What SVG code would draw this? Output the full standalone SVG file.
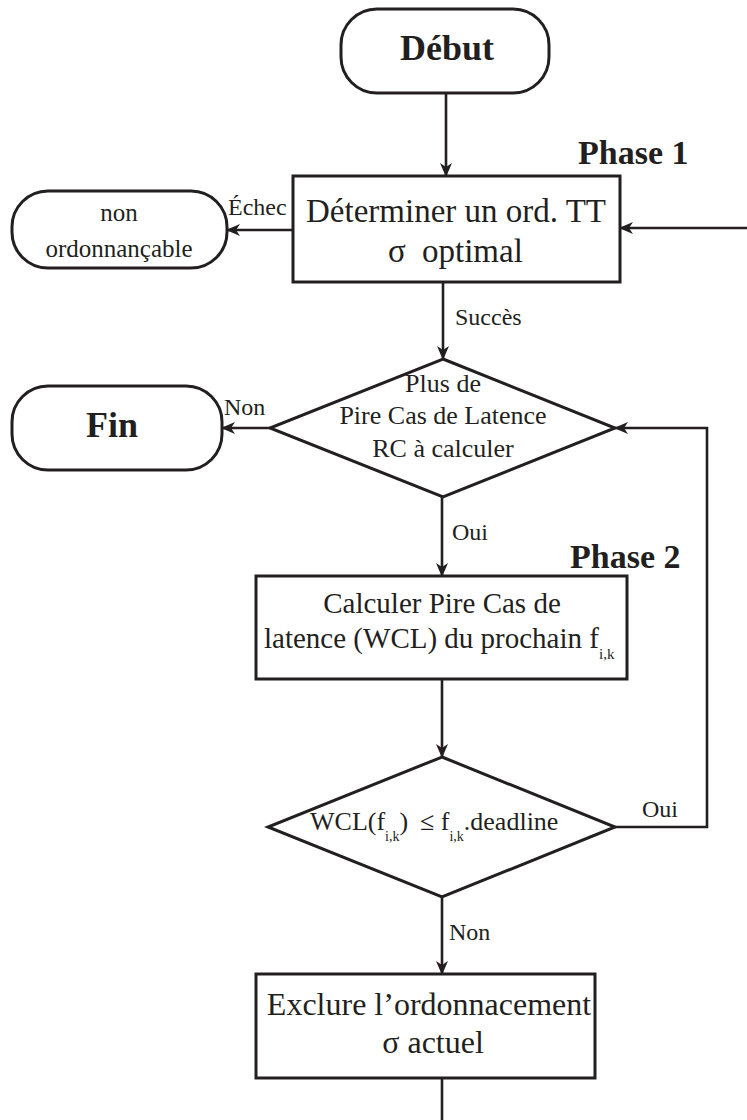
<svg xmlns="http://www.w3.org/2000/svg" width="747" height="1120" viewBox="0 0 747 1120">
  <style>
    text { font-family: "Liberation Serif", "Times New Roman", serif; fill: #231f20; }
    .shape { fill: #ffffff; stroke: #231f20; stroke-width: 3; }
    .wire { fill: none; stroke: #231f20; stroke-width: 2.6; }
    .bold { font-weight: bold; }
    .mid { text-anchor: middle; }
  </style>
  <defs>
    <marker id="arrow" viewBox="0 0 14 12" refX="13" refY="6" markerWidth="14" markerHeight="12" markerUnits="userSpaceOnUse" orient="auto">
      <path d="M0,0 L14,6 L0,12 L4,6 z" fill="#231f20"/>
    </marker>
  </defs>
  <rect width="747" height="1120" fill="#ffffff"/>

  <!-- connectors -->
  <g id="connectors">
    <path class="wire" d="M446,93 V176" marker-end="url(#arrow)"/>
    <path class="wire" d="M293,230 H227" marker-end="url(#arrow)"/>
    <path class="wire" d="M747,228 H620" marker-end="url(#arrow)"/>
    <path class="wire" d="M443,282 V359" marker-end="url(#arrow)"/>
    <path class="wire" d="M270,428 H222" marker-end="url(#arrow)"/>
    <path class="wire" d="M442,497 V576" marker-end="url(#arrow)"/>
    <path class="wire" d="M442,679 V757" marker-end="url(#arrow)"/>
    <path class="wire" d="M615,827 H707 V428 H615" marker-end="url(#arrow)"/>
    <path class="wire" d="M442,897 V974" marker-end="url(#arrow)"/>
    <path class="wire" d="M442,1078 V1120"/>
    <text x="228" y="215" font-size="24">Échec</text>
    <text x="455" y="325" font-size="24">Succès</text>
    <text x="224" y="415" font-size="24">Non</text>
    <text x="452" y="540" font-size="24">Oui</text>
    <text x="642" y="817" font-size="24">Oui</text>
    <text x="449" y="940" font-size="24">Non</text>
  </g>

  <g id="debut">
    <rect class="shape" x="341" y="9" width="208" height="84" rx="36" ry="36"/>
    <text class="bold mid" x="447" y="60" font-size="36">Début</text>
  </g>

  <g id="phase1">
    <text class="bold" x="578" y="164" font-size="34">Phase 1</text>
  </g>

  <g id="determiner">
    <rect class="shape" x="293" y="176" width="327" height="106"/>
    <text class="mid" x="456" y="222" font-size="33">Déterminer un ord. TT</text>
    <text x="388" y="262" font-size="33">σ<tspan x="422">optimal</tspan></text>
  </g>

  <g id="non-ordonnancable">
    <rect class="shape" x="12" y="191" width="215" height="77" rx="36" ry="36"/>
    <text class="mid" x="119" y="221" font-size="25">non</text>
    <text class="mid" x="119" y="257" font-size="25">ordonnançable</text>
  </g>

  <g id="plus-de-wcl">
    <path class="shape" d="M443,359 L615,428 L443,497 L270,428 Z"/>
    <text class="mid" x="443" y="392" font-size="26">Plus de</text>
    <text class="mid" x="443" y="424" font-size="26">Pire Cas de Latence</text>
    <text class="mid" x="443" y="457" font-size="26">RC à calculer</text>
  </g>

  <g id="fin">
    <rect class="shape" x="12" y="386" width="210" height="84" rx="36" ry="36"/>
    <text class="bold mid" x="112" y="437" font-size="36">Fin</text>
  </g>

  <g id="phase2">
    <text class="bold" x="570" y="568" font-size="34">Phase 2</text>
  </g>

  <g id="calculer">
    <rect class="shape" x="256" y="576" width="371" height="103"/>
    <text class="mid" x="442" y="613" font-size="29">Calculer Pire Cas de</text>
    <text x="264" y="648" font-size="29">latence (WCL) du prochain f<tspan font-size="15" dy="11">i,k</tspan></text>
  </g>

  <g id="test-deadline">
    <path class="shape" d="M442,757 L615,827 L442,897 L268,827 Z"/>
    <text x="310" y="830" font-size="26">WCL(f<tspan font-size="14" dy="11">i,k</tspan><tspan dy="-11">)</tspan><tspan x="420">≤ f</tspan><tspan font-size="14" dy="11">i,k</tspan><tspan dy="-11">.deadline</tspan></text>
  </g>

  <g id="exclure">
    <rect class="shape" x="256" y="974" width="339" height="104"/>
    <text class="mid" x="429" y="1015" font-size="32">Exclure l’ordonnacement</text>
    <text class="mid" x="433" y="1053" font-size="32">σ actuel</text>
  </g>
</svg>
